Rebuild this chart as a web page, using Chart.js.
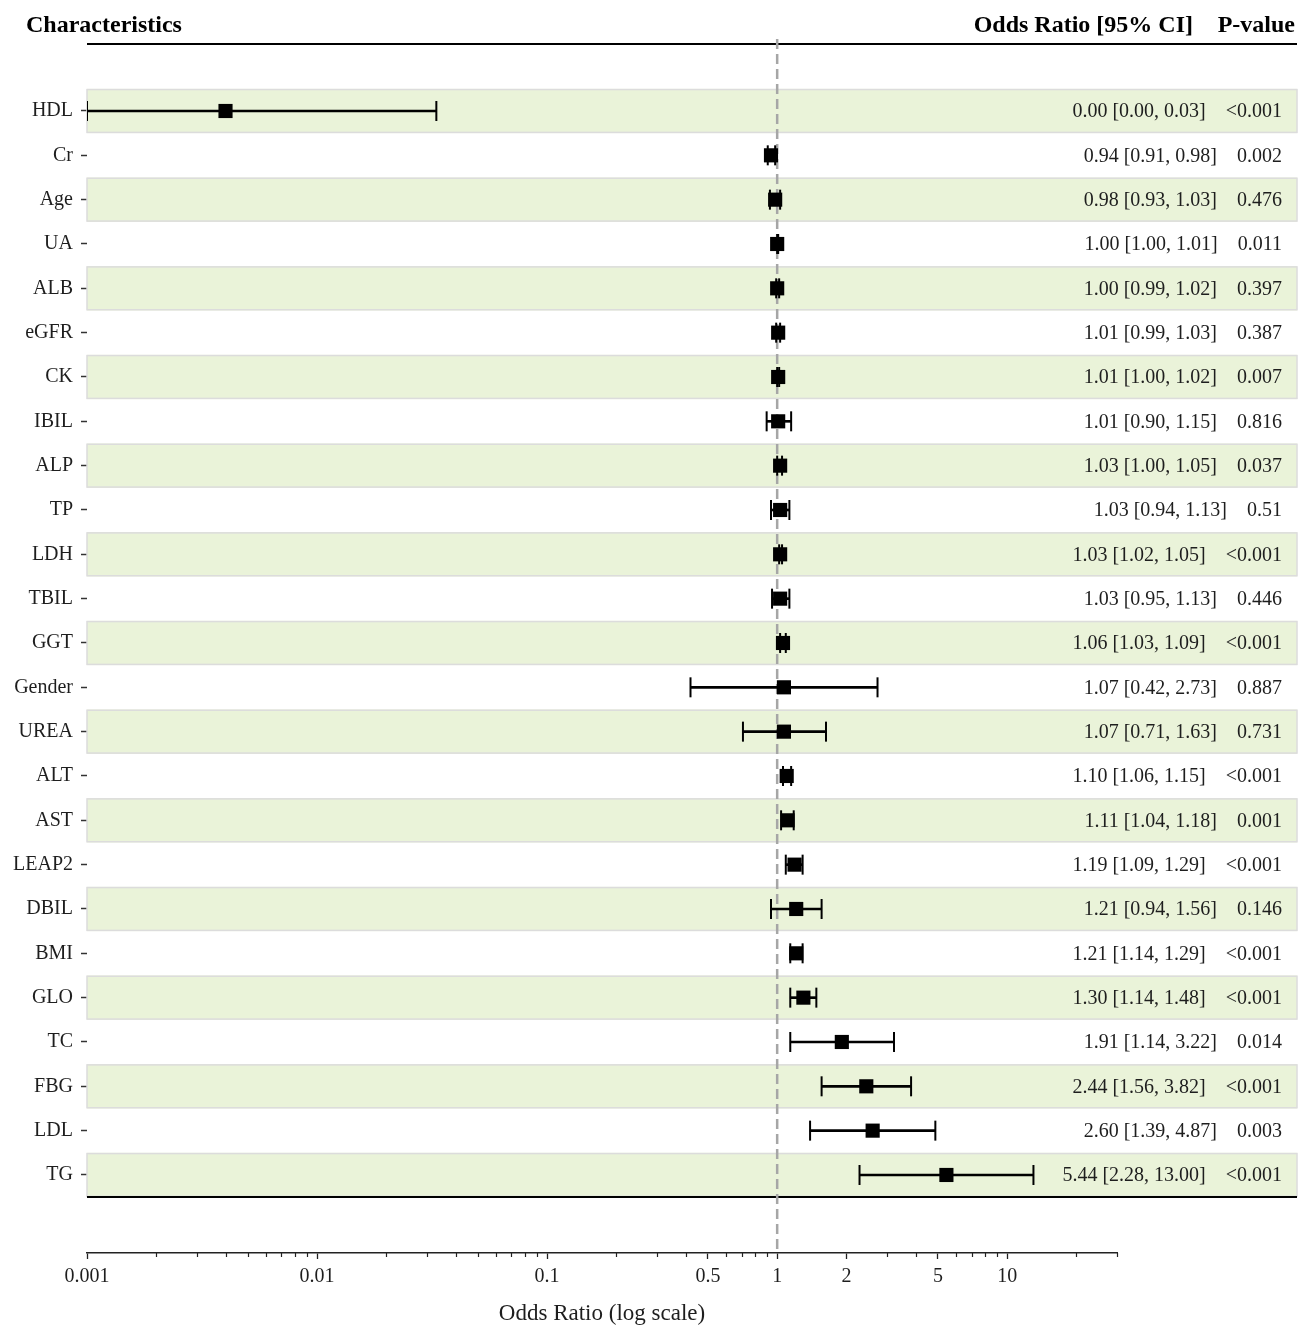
<!DOCTYPE html>
<html>
<head>
<meta charset="utf-8">
<script src="https://cdn.jsdelivr.net/npm/chart.js@4.4.1/dist/chart.umd.min.js"></script>
<style>
  html, body { margin: 0; padding: 0; background: #ffffff; }
  #wrap { width: 1298px; height: 1325px; position: relative; }
</style>
</head>
<body>
<div id="wrap"><canvas id="c" width="1298" height="1325"></canvas></div>
<script>
const categories = ['HDL','Cr','Age','UA','ALB','eGFR','CK','IBIL','ALP','TP','LDH','TBIL','GGT','Gender','UREA','ALT','AST','LEAP2','DBIL','BMI','GLO','TC','FBG','LDL','TG'];
const oddsRatio = [0.004,0.94,0.98,1.00,1.00,1.01,1.01,1.01,1.03,1.03,1.03,1.03,1.06,1.07,1.07,1.10,1.11,1.19,1.21,1.21,1.30,1.91,2.44,2.60,5.44];
const ciLower   = [0.001,0.91,0.93,1.00,0.99,0.99,1.00,0.90,1.00,0.94,1.02,0.95,1.03,0.42,0.71,1.06,1.04,1.09,0.94,1.14,1.14,1.14,1.56,1.39,2.28];
const ciUpper   = [0.033,0.98,1.03,1.01,1.02,1.03,1.02,1.15,1.05,1.13,1.05,1.13,1.09,2.73,1.63,1.15,1.18,1.29,1.56,1.29,1.48,3.22,3.82,4.87,13.00];
const pValues   = ['<0.001','0.002','0.476','0.011','0.397','0.387','0.007','0.816','0.037','0.51','<0.001','0.446','<0.001','0.887','0.731','<0.001','0.001','<0.001','0.146','<0.001','<0.001','0.014','<0.001','0.003','<0.001'];
const tickValues = [0.001,0.01,0.1,0.5,1,2,5,10];
const tickLabels = ['0.001','0.01','0.1','0.5','1','2','5','10'];
const minorTickValues = [0.002,0.003,0.004,0.005,0.006,0.007,0.008,0.009,
  0.02,0.03,0.04,0.05,0.06,0.07,0.08,0.09,
  0.2,0.3,0.4,0.6,0.7,0.8,0.9,
  3,4,6,7,8,9,20,30];

const SERIF = '"Liberation Serif", "Times New Roman", "DejaVu Serif", serif';
const TXT = '#1e1e1e';

const decorPlugin = {
  id: 'decor',
  beforeDatasetsDraw(chart) {
    const {ctx, chartArea, scales} = chart;
    const y = scales.y, x = scales.x;
    const left = chartArea.left, right = chart.width - 1;
    ctx.save();
    categories.forEach((c, i) => {
      if (i % 2 !== 0) return;
      const y0 = y.getPixelForValue(i - 0.5);
      const y1 = y.getPixelForValue(i + 0.5);
      ctx.fillStyle = '#eaf3d9';
      ctx.fillRect(left, y0, right - left, y1 - y0);
      ctx.strokeStyle = '#dcdcdc';
      ctx.lineWidth = 1.5;
      ctx.strokeRect(left, y0 + 0.75, right - left, y1 - y0 - 1.5);
    });
    ctx.strokeStyle = '#000';
    ctx.lineWidth = 2;
    [-1.5, categories.length - 0.5].forEach(v => {
      const py = Math.round(y.getPixelForValue(v));
      ctx.beginPath();
      ctx.moveTo(left, py);
      ctx.lineTo(right, py);
      ctx.stroke();
    });
    const px = x.getPixelForValue(1);
    ctx.strokeStyle = '#a6a6a6';
    ctx.lineWidth = 2.5;
    ctx.setLineDash([10, 5]);
    ctx.beginPath();
    ctx.moveTo(px, chartArea.top);
    ctx.lineTo(px, chartArea.bottom);
    ctx.stroke();
    ctx.restore();
  },
  afterDraw(chart) {
    const {ctx, scales} = chart;
    const y = scales.y, x = scales.x;
    ctx.save();
    ctx.strokeStyle = '#222';
    ctx.lineWidth = 1.2;
    minorTickValues.forEach(v => {
      const px = Math.round(x.getPixelForValue(v)) + 0.5;
      ctx.beginPath();
      ctx.moveTo(px, x.top);
      ctx.lineTo(px, x.top + 4);
      ctx.stroke();
    });
    ctx.fillStyle = '#000';
    ctx.font = 'bold 24px ' + SERIF;
    ctx.textBaseline = 'alphabetic';
    ctx.textAlign = 'left';
    ctx.fillText('Characteristics', 26, 32);
    ctx.textAlign = 'right';
    ctx.fillText('Odds Ratio [95% CI]', 1193, 32);
    ctx.fillText('P-value', 1295, 32);
    ctx.font = '20px ' + SERIF;
    ctx.fillStyle = TXT;
    ctx.textBaseline = 'middle';
    categories.forEach((c, i) => {
      const py = y.getPixelForValue(i) + 1;
      const p = pValues[i];
      const orTxt = oddsRatio[i].toFixed(2) + ' [' + ciLower[i].toFixed(2) + ', ' + ciUpper[i].toFixed(2) + ']';
      const pw = ctx.measureText(p).width;
      ctx.fillText(p, 1282, py);
      ctx.fillText(orTxt, 1282 - pw - 20, py);
    });
    ctx.restore();
  }
};

new Chart(document.getElementById('c'), {
  type: 'bar',
  data: {
    datasets: [
      {
        type: 'bar',
        indexAxis: 'y',
        data: categories.map((c, i) => ({ y: i, x: [ciLower[i], ciUpper[i]] })),
        backgroundColor: '#000',
        borderWidth: 0,
        barThickness: 2,
        grouped: false,
        order: 3
      },
      {
        type: 'scatter',
        data: categories.flatMap((c, i) => [{ x: ciLower[i], y: i }, { x: ciUpper[i], y: i }]),
        pointStyle: 'line',
        rotation: 90,
        radius: 10,
        borderColor: '#000',
        borderWidth: 2,
        order: 2
      },
      {
        type: 'scatter',
        data: categories.map((c, i) => ({ x: oddsRatio[i], y: i })),
        pointStyle: 'rect',
        radius: 10,
        backgroundColor: '#000',
        borderColor: '#000',
        borderWidth: 0,
        order: 1
      }
    ]
  },
  options: {
    responsive: false,
    animation: false,
    events: [],
    layout: { padding: { top: 39, right: 181, left: 0, bottom: 0 } },
    plugins: { legend: { display: false }, tooltip: { enabled: false }, title: { display: false } },
    scales: {
      x: {
        type: 'logarithmic',
        position: 'bottom',
        offset: false,
        min: 0.001,
        max: 30,
        afterBuildTicks(scale) {
          scale.ticks = tickValues.map(v => ({ value: v, major: true }));
        },
        afterFit(scale) { scale.height = 72; },
        ticks: {
          autoSkip: false,
          maxRotation: 0,
          padding: 6,
          color: TXT,
          font: { family: SERIF, size: 20 },
          callback(value) {
            const idx = tickValues.indexOf(value);
            return idx >= 0 ? tickLabels[idx] : '';
          }
        },
        grid: { offset: false, drawOnChartArea: false, drawTicks: true, tickLength: 6, tickColor: '#222', tickWidth: 1.3 },
        border: { display: true, color: '#222', width: 1.5 },
        title: {
          display: true,
          text: 'Odds Ratio (log scale)',
          color: TXT,
          font: { family: SERIF, size: 23 },
          padding: { top: 0, bottom: -3 }
        }
      },
      y: {
        type: 'linear',
        reverse: true,
        offset: false,
        min: -1.624,
        max: 25.76,
        afterBuildTicks(scale) {
          scale.ticks = categories.map((c, i) => ({ value: i }));
        },
        afterFit(scale) { scale.width = 87; },
        ticks: {
          autoSkip: false,
          padding: 8,
          color: TXT,
          font: { family: SERIF, size: 20 },
          callback(value) { return categories[value]; }
        },
        grid: { offset: false, drawOnChartArea: false, drawTicks: true, tickLength: 6, tickColor: '#333', tickWidth: 1.5 },
        border: { display: false }
      }
    }
  },
  plugins: [decorPlugin]
});
</script>
</body>
</html>
